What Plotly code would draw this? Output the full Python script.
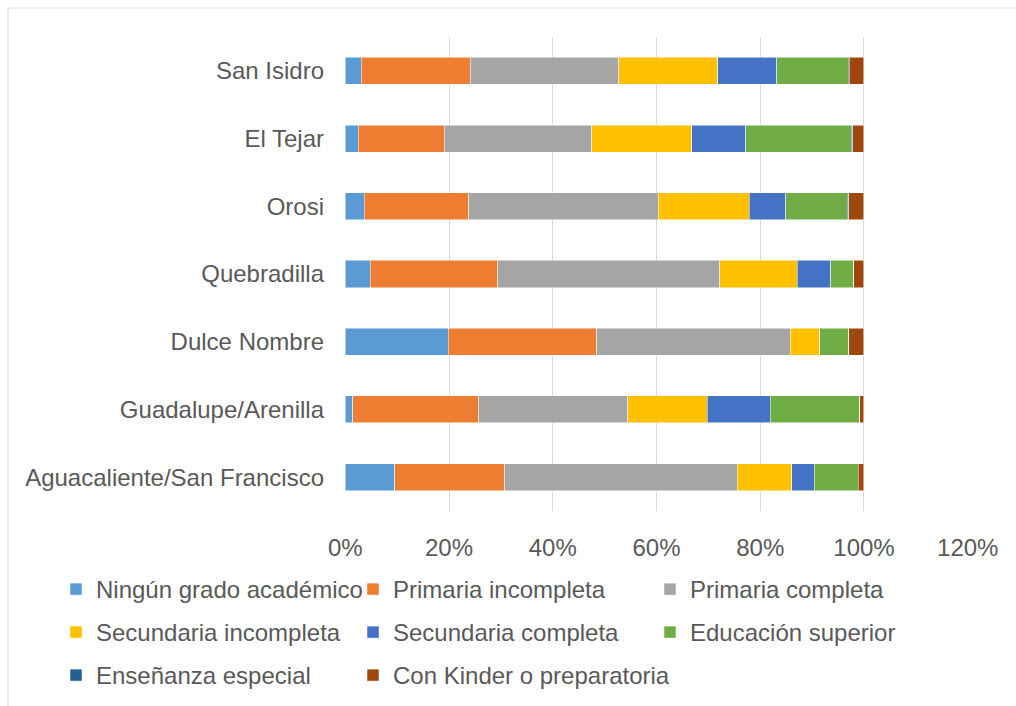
import plotly.graph_objects as go

INK = "#595959"
GRID = "#d9d9d9"

# categories listed bottom -> top (Excel order)
districts = [
    "Aguacaliente/San Francisco",
    "Guadalupe/Arenilla",
    "Dulce Nombre",
    "Quebradilla",
    "Orosi",
    "El Tejar",
    "San Isidro",
]

ningun       = [0.095, 0.014, 0.199, 0.048, 0.037, 0.025, 0.031]
prim_inc     = [0.212, 0.243, 0.286, 0.246, 0.201, 0.166, 0.210]
prim_comp    = [0.449, 0.288, 0.373, 0.428, 0.365, 0.284, 0.286]
sec_inc      = [0.105, 0.153, 0.057, 0.149, 0.176, 0.193, 0.191]
sec_comp     = [0.043, 0.121, 0.000, 0.065, 0.070, 0.104, 0.114]
educ_sup     = [0.085, 0.173, 0.056, 0.044, 0.119, 0.203, 0.138]
ens_especial = [0.000, 0.000, 0.000, 0.000, 0.003, 0.003, 0.002]
kinder       = [0.011, 0.008, 0.029, 0.020, 0.029, 0.022, 0.028]

series = [
    ("Ningún grado académico", ningun, "#5B9BD5"),
    ("Primaria incompleta", prim_inc, "#ED7D31"),
    ("Primaria completa", prim_comp, "#A5A5A5"),
    ("Secundaria incompleta", sec_inc, "#FFC000"),
    ("Secundaria completa", sec_comp, "#4472C4"),
    ("Educación superior", educ_sup, "#70AD47"),
    ("Enseñanza especial", ens_especial, "#255E91"),
    ("Con Kinder o preparatoria", kinder, "#9E480E"),
]

# legend laid out as rows of three, like the Excel original; the last entry
# gets its own legend so its long label isn't clipped by the fixed entry width
legend_ids = ["legend", "legend", "legend", "legend2", "legend2", "legend2",
              "legend3", "legend4"]

fig = go.Figure()
for (name, vals, color), lg in zip(series, legend_ids):
    fig.add_trace(go.Bar(
        y=districts, x=vals, name=name, orientation="h", legend=lg,
        marker=dict(color=color, line=dict(color="white", width=0.5)),
        hovertemplate="%{y}<br>" + name + ": %{x:.1%}<extra></extra>",
    ))

W, H = 1016, 706
ML, MR, MT, MB = 345, 48, 37, 195
pw, ph = W - ML - MR, H - MT - MB
# chart frame (only top/left edges visible in the shot)
fx = (8 - ML) / pw
fy = (H - MB - 8) / ph

LEG_X = 56
LEG_PITCH = 297


def _legend(top_px, left_px=LEG_X, fixed=True):
    # paper coords left of / below the plot so the row may span the margin
    d = dict(
        orientation="h", traceorder="normal",
        xref="paper", yref="paper",
        x=(left_px - ML) / pw, y=(H - MB - top_px) / ph,
        xanchor="left", yanchor="top", itemwidth=30,
        font=dict(size=24, color=INK), bgcolor="rgba(0,0,0,0)",
    )
    if fixed:
        d.update(entrywidth=LEG_PITCH - 45, entrywidthmode="pixels")
    return d


fig.update_layout(
    width=W, height=H,
    barmode="stack", bargap=0.6,
    plot_bgcolor="white", paper_bgcolor="white",
    font=dict(family="Liberation Sans, Arial, sans-serif", size=24, color=INK),
    margin=dict(l=ML, r=MR, t=MT, b=MB, pad=0, autoexpand=False),
    xaxis=dict(
        range=[-0.0005, 1.2005], dtick=0.2, tick0=0, tickformat=".0%",
        showgrid=True, gridcolor=GRID, gridwidth=1, zeroline=False,
        showline=False, ticks="", ticklabelstandoff=20,
        tickfont=dict(size=24, color=INK),
    ),
    yaxis=dict(
        showgrid=False, showline=False, ticks="", ticklabelstandoff=20,
        tickfont=dict(size=24, color=INK),
    ),
    legend=_legend(567),
    legend2=_legend(610),
    legend3=_legend(653, fixed=False),
    legend4=_legend(653, LEG_X + LEG_PITCH, fixed=False),
    shapes=[
        dict(type="line", xref="paper", yref="paper",
             x0=fx, x1=2, y0=fy, y1=fy, line=dict(color=GRID, width=1)),
        dict(type="line", xref="paper", yref="paper",
             x0=fx, x1=fx, y0=fy, y1=-2, line=dict(color=GRID, width=1)),
    ],
)

fig.write_html(
    "out.html",
    config={"displayModeBar": False},
    post_script="document.body.style.margin = '0';",
)
